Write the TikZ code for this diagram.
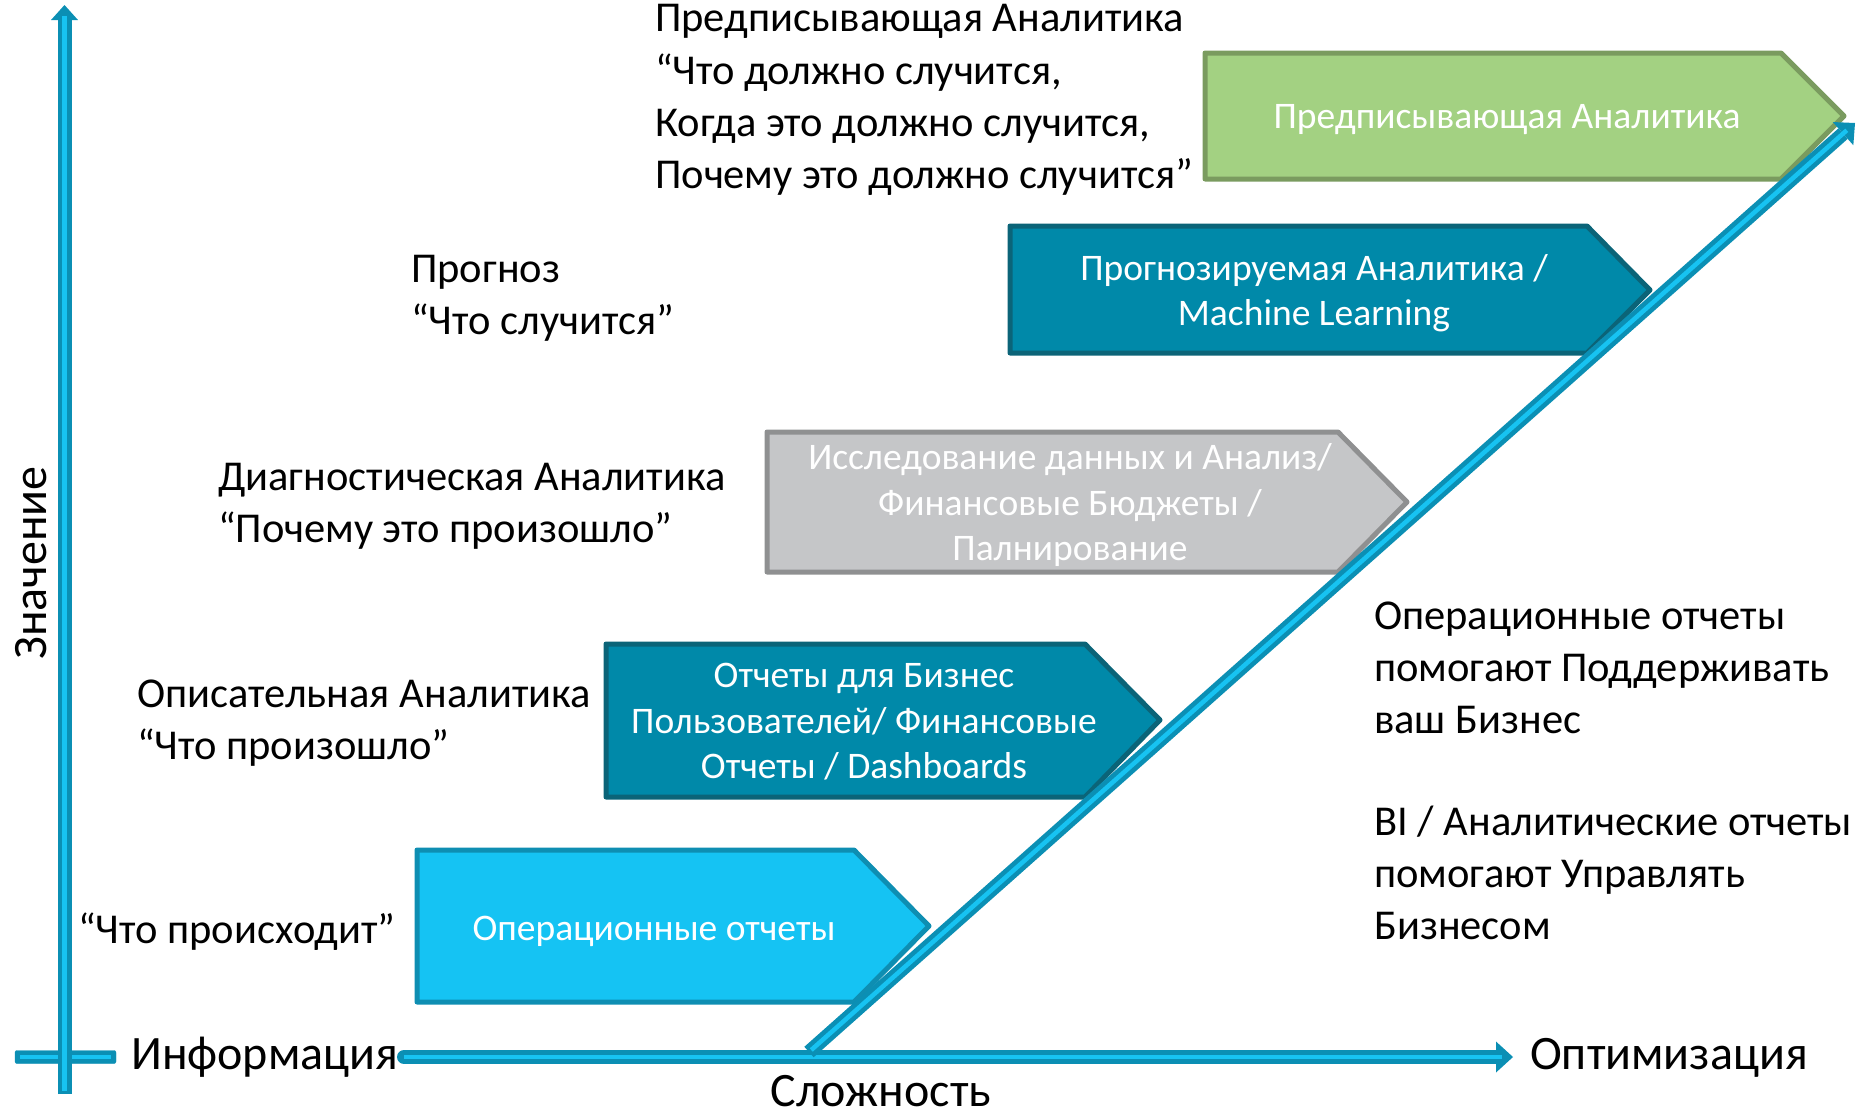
\documentclass[tikz,border=0pt]{standalone}
\usepackage{fontspec}
\setmainfont{Carlito}
\usetikzlibrary{calc}
\definecolor{axisdark}{HTML}{0B8FB4}
\definecolor{axislight}{HTML}{17C3F2}
\definecolor{opfill}{HTML}{15C3F3}
\definecolor{opline}{HTML}{0E8EB2}
\definecolor{tealfill}{HTML}{0089A9}
\definecolor{tealline}{HTML}{0B6478}
\definecolor{grayfill}{HTML}{C5C6C8}
\definecolor{grayline}{HTML}{8F9091}
\definecolor{greenfill}{HTML}{A3D182}
\definecolor{greenline}{HTML}{7A9B5F}
\begin{document}
\begin{tikzpicture}[x=1pt,y=-1pt,
  lbl/.style={font=\fontsize{42.5}{52.2}\selectfont, align=left, anchor=west, inner sep=0pt},
  axlbl/.style={font=\fontsize{48}{56}\selectfont, inner sep=0pt},
  boxtext/.style={font=\fontsize{37.5}{45.5}\selectfont, text=white, align=center, inner sep=0pt},
  boxshape/.style={line width=5pt, line join=round},
  opbox/.style={boxshape, draw=opline, fill=opfill},
  tealbox/.style={boxshape, draw=tealline, fill=tealfill},
  graybox/.style={boxshape, draw=grayline, fill=grayfill},
  greenbox/.style={boxshape, draw=greenline, fill=greenfill},
  shaftout/.style={draw=axisdark, line width=14pt},
  shaftin/.style={draw=axislight, line width=4.5pt},
  headfill/.style={fill=axisdark}
]
\useasboundingbox (0,0) rectangle (1864,1117);

% ---------- boxes ----------
\draw[opbox] (417,850) -- (854,850) -- (929,926) -- (854,1002) -- (417,1002) -- cycle;
\node[boxtext] (b1) at (654,931.5) {Операционные отчеты};

\draw[tealbox] (606,644) -- (1085,644) -- (1160,720) -- (1085,797) -- (606,797) -- cycle;
\node[boxtext] (b2) at (864,722) {Отчеты для Бизнес\\Пользователей/ Финансовые\\Отчеты / Dashboards};

\draw[graybox] (767,432) -- (1338,432) -- (1407,502) -- (1338,572) -- (767,572) -- cycle;
\node[boxtext] (b3) at (1070,505) {Исследование данных и Анализ/\\Финансовые Бюджеты /\\Палнирование};

\draw[tealbox] (1010,226) -- (1587,226) -- (1650,290) -- (1587,353) -- (1010,353) -- cycle;
\node[boxtext] (b4) at (1314,293) {Прогнозируемая Аналитика /\\Machine Learning};

\draw[greenbox] (1205,53) -- (1781,53) -- (1844,116) -- (1781,179) -- (1205,179) -- cycle;
\node[boxtext] (b5) at (1507,119.5) {Предписывающая Аналитика};

% ---------- axes ----------
\coordinate (vbot) at (64.5,1094);
\coordinate (vtop) at (64.5,5);
\coordinate (vbase) at (64.5,20);
\coordinate (cbl) at (15,1050.5);
\coordinate (cbr) at (116,1063.5);
\coordinate (cbA) at (20,1057);
\coordinate (cbB) at (111,1057);
\coordinate (hleft) at (400,1057);
\coordinate (hbase) at (1496,1057);
\coordinate (htip) at (1513,1057);
\coordinate (dbot) at (809,1052);
\coordinate (dtop) at (1855,123);
\coordinate (dbase) at ($(dtop)!16pt!(dbot)$);

% cross bar
\draw[fill=axisdark, draw=axisdark, rounded corners=2pt] (cbl) rectangle (cbr);
\draw[shaftin] (cbA) -- (cbB);

% vertical axis
\draw[shaftout] (vbot) -- (vbase);
\fill[headfill] ($(vbase)+(-13.5,0)$) -- (vtop) -- ($(vbase)+(13.5,0)$) -- cycle;
\draw[shaftin] ($(vbot)+(0,-3)$) -- ($(vbase)+(0,-4)$);

% horizontal axis
\draw[shaftout, line cap=round] ($(hleft)+(4,0)$) -- (hbase);
\fill[headfill] ($(hbase)+(0,-15.5)$) -- (htip) -- ($(hbase)+(0,15.5)$) -- cycle;
\draw[shaftin] ($(hleft)+(4,0)$) -- ($(hbase)+(6,0)$);

% diagonal arrow
\draw[shaftout] (dbot) -- (dbase);
\fill[headfill] ($(dbase)!15.5pt!90:(dtop)$) -- (dtop) -- ($(dbase)!15.5pt!-90:(dtop)$) -- cycle;
\draw[shaftin] ($(dbot)!3pt!(dtop)$) -- ($(dbase)!5pt!(dtop)$);

% ---------- labels ----------
\node[lbl] (l5) at (655,100) {Предписывающая Аналитика\\“Что должно случится,\\Когда это должно случится,\\Почему это должно случится”};
\node[lbl] (l4) at (411,298.5) {Прогноз\\“Что случится”};
\node[lbl] (l3) at (218,506.5) {Диагностическая Аналитика\\“Почему это произошло”};
\node[lbl] (l2) at (137,723) {Описательная Аналитика\\“Что произошло”};
\node[lbl] (l1) at (78,931.5) {“Что происходит”};

\node[lbl] (r1) at (1374,668) {Операционные отчеты\\помогают Поддерживать\\ваш Бизнес};
\node[lbl] (r2) at (1374,873) {BI / Аналитические отчеты\\помогают Управлять\\Бизнесом};

\node[axlbl, anchor=base west] (info) at (131,1069) {Информация};
\node[axlbl, anchor=base west] (optim) at (1530,1069) {Оптимизация};
\node[axlbl] (slozh) at (881,1091) {Сложность};
\node[axlbl, rotate=90] (znach) at (31,563) {Значение};
\end{tikzpicture}
\end{document}
